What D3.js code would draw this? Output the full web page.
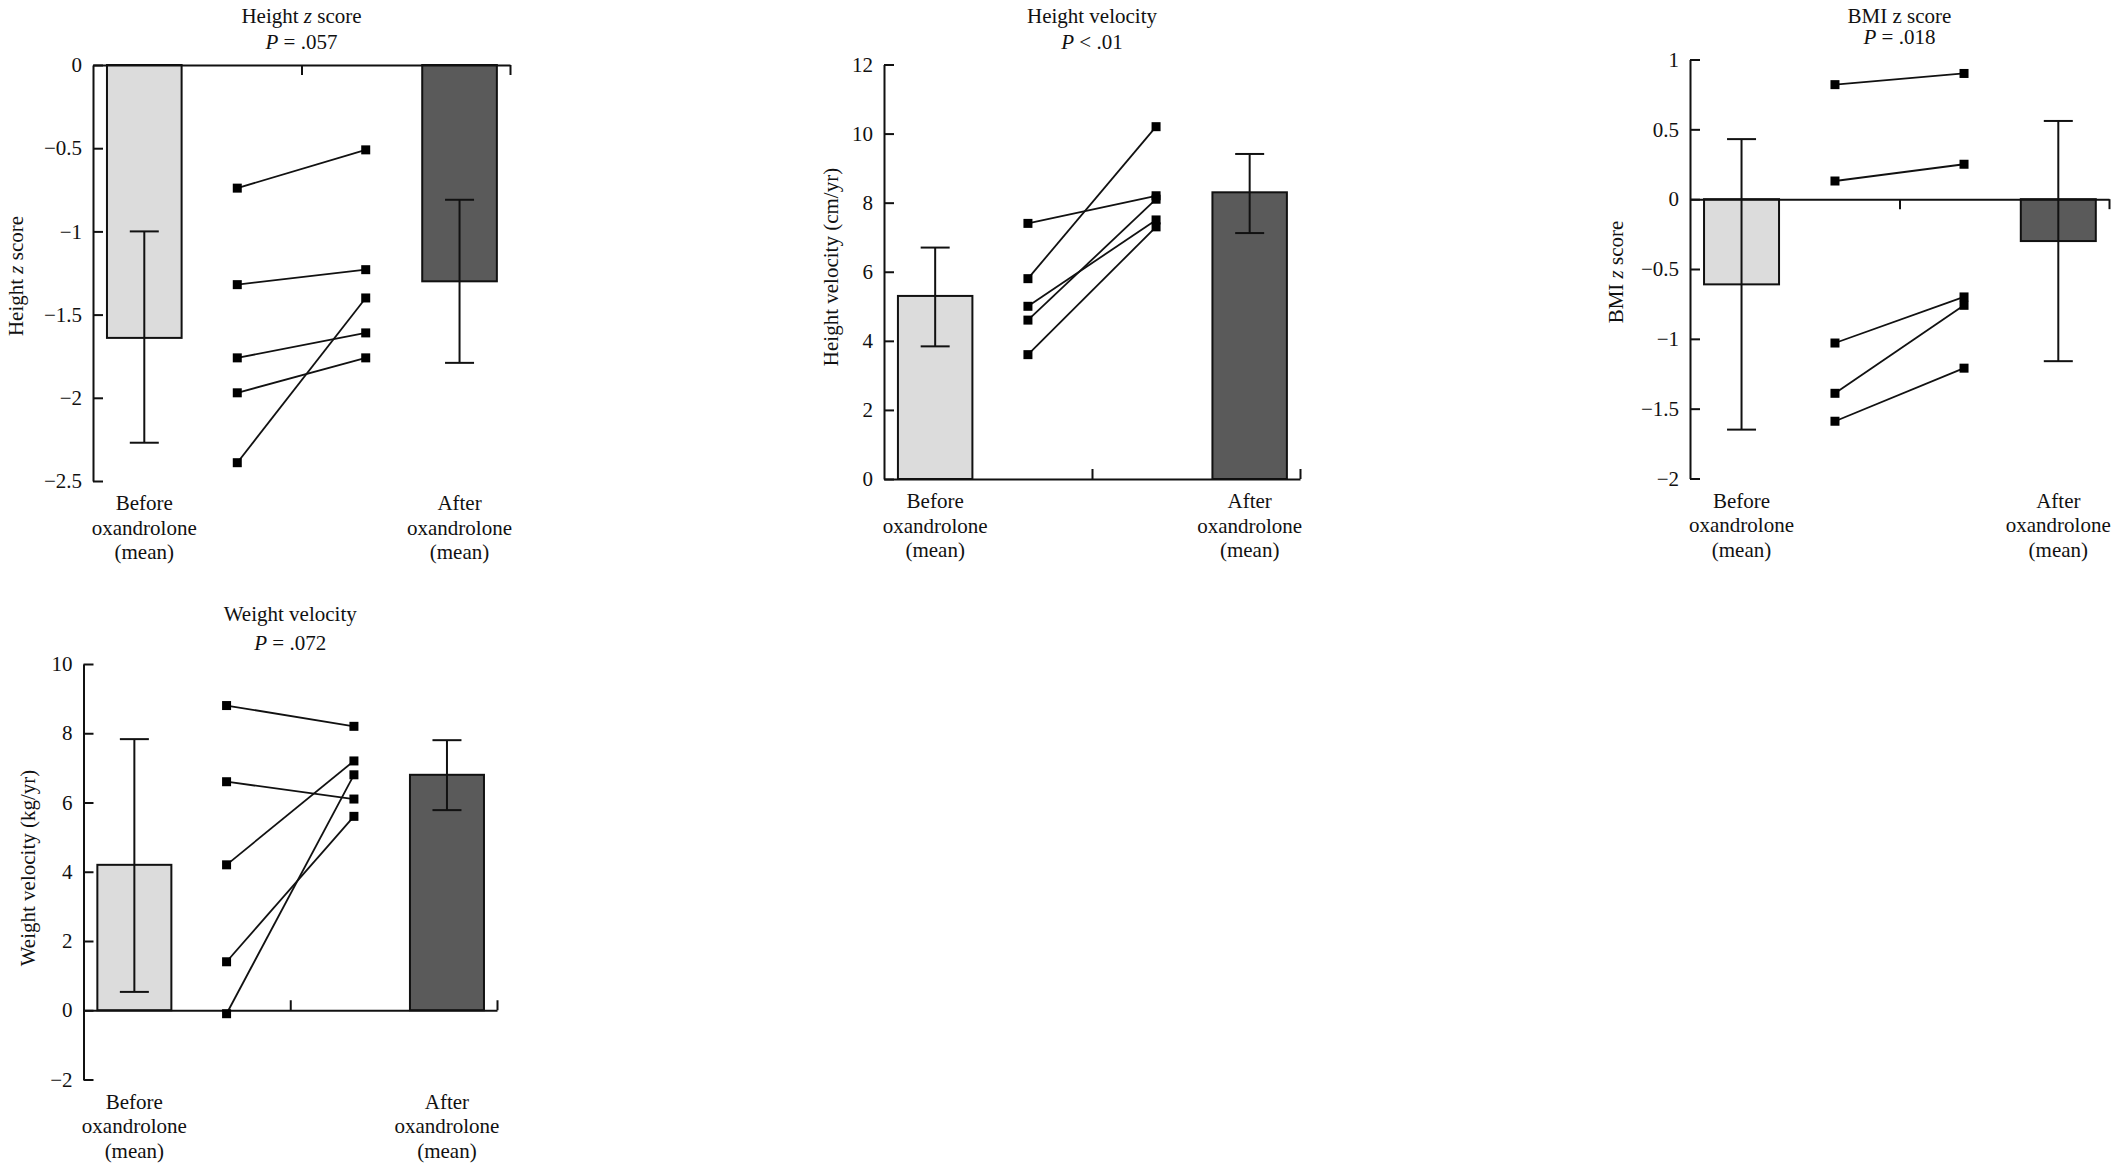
<!DOCTYPE html>
<html>
<head>
<meta charset="utf-8">
<script src="https://cdn.jsdelivr.net/npm/d3@7"></script>
<style>
  body { margin: 0; background: #fff; }
  text { font-family: "Liberation Serif", "DejaVu Serif", serif; font-size: 21px; fill: #111; white-space: pre; }
</style>
</head>
<body>
<svg id="chart" width="2120" height="1165"></svg>
<script>
// panel texts
const titles = ["Height z score", "Height velocity", "BMI z score", "Weight velocity"]
const pTexts = [" = .057", " < .01", " = .018", " = .072"]
const yLabels = ["Height z score", "Height velocity (cm/yr)", "BMI z score", "Weight velocity (kg/yr)"]
const categories = [["Before", "oxandrolone", "(mean)"], ["After", "oxandrolone", "(mean)"]]

// y axis domains and ticks
const yDomains = [[-2.5, 0], [0, 12], [-2, 1], [-2, 10]]
const yTicks = [
  [0, -0.5, -1, -1.5, -2, -2.5],
  [0, 2, 4, 6, 8, 10, 12],
  [1, 0.5, 0, -0.5, -1, -1.5, -2],
  [10, 8, 6, 4, 2, 0, -2]
]

// group means (before, after)
const heightZMeans = [-1.64, -1.30]
const heightVelMeans = [5.3, 8.3]
const bmiZMeans = [-0.61, -0.30]
const weightVelMeans = [4.2, 6.8]

// error bars [low, high] (before, after)
const heightZErr = [[-2.27, -1.0], [-1.79, -0.81]]
const heightVelErr = [[3.84, 6.7], [7.12, 9.41]]
const bmiZErr = [[-1.65, 0.43], [-1.16, 0.56]]
const weightVelErr = [[0.53, 7.83], [5.78, 7.8]]

// individual patients
const heightZBefore = [-0.74, -1.32, -1.76, -1.97, -2.39]
const heightZAfter = [-0.51, -1.23, -1.61, -1.76, -1.4]
const heightVelBefore = [7.4, 5.8, 5.0, 4.6, 3.6]
const heightVelAfter = [8.2, 10.2, 7.5, 8.1, 7.3]
const bmiZBefore = [0.82, 0.13, -1.03, -1.39, -1.59]
const bmiZAfter = [0.9, 0.25, -0.7, -0.76, -1.21]
const weightVelBefore = [8.8, 6.6, 4.2, 1.4, -0.1]
const weightVelAfter = [8.2, 6.1, 7.2, 5.6, 6.8]

const means = [heightZMeans, heightVelMeans, bmiZMeans, weightVelMeans]
const errs = [heightZErr, heightVelErr, bmiZErr, weightVelErr]
const befores = [heightZBefore, heightVelBefore, bmiZBefore, weightVelBefore]
const afters = [heightZAfter, heightVelAfter, bmiZAfter, weightVelAfter]

// layout of each panel (pixels)
const layouts = [
  { x0: 93, x1: 510, yTop: 65, yBot: 481, tickDir: 1, titleY: [23, 49], ylabX: 22.5, ylabY: 276, italicTitle: true },
  { x0: 884, x1: 1300, yTop: 64.5, yBot: 479, tickDir: -1, titleY: [23, 49], ylabX: 837.5, ylabY: 267, italicTitle: false },
  { x0: 1690, x1: 2109, yTop: 59.5, yBot: 478.5, tickDir: 1, titleY: [23, 44], ylabX: 1622.5, ylabY: 272, italicTitle: false },
  { x0: 83.5, x1: 497, yTop: 664, yBot: 1079.5, tickDir: -1, titleY: [621, 650], ylabX: 34.5, ylabY: 868, italicTitle: true }
]
// horizontal slots as fraction of the axis: before bar, first dots, second dots, after bar
const slots = [0.123, 0.346, 0.654, 0.879]
const barFrac = 0.179
const barColors = ["#dcdcdc", "#5a5a5a"]

const fmt = v => (v < 0 ? "\u2212" : "") + Math.abs(v)

const svg = d3.select("#chart")
svg.append("rect").attr("width", 2120).attr("height", 1165).attr("fill", "#fff")

// writes a string with the " z " in italics
const zText = (sel, str, italic) => {
  str.split(/( z )/).forEach(p => {
    if (p === " z ") {
      sel.append("tspan").text(" ")
      sel.append("tspan").style("font-style", italic ? "italic" : "normal").text("z")
      sel.append("tspan").text(" ")
    } else sel.append("tspan").text(p)
  })
}

layouts.forEach((L, i) => {
  let g = svg.append("g")
  let x = d3.scaleLinear().domain([0, 1]).range([L.x0, L.x1])
  let y = d3.scaleLinear().domain(yDomains[i]).range([L.yBot, L.yTop])
  let bw = (L.x1 - L.x0) * barFrac

  // title
  let cx = (L.x0 + L.x1) / 2
  let t1 = g.append("text").attr("x", cx).attr("y", L.titleY[0]).attr("text-anchor", "middle")
  zText(t1, titles[i], L.italicTitle)
  let t2 = g.append("text").attr("x", cx).attr("y", L.titleY[1]).attr("text-anchor", "middle")
  t2.append("tspan").style("font-style", "italic").text("P")
  t2.append("tspan").text(pTexts[i])

  // y label
  let yl = g.append("text")
    .attr("transform", "translate(" + L.ylabX + "," + L.ylabY + ") rotate(-90)")
    .attr("text-anchor", "middle")
  zText(yl, yLabels[i], true)

  // bars
  g.selectAll(".bar")
    .data(means[i])
    .enter()
    .append("rect")
    .attr("class", "bar")
    .attr("x", (d, j) => x(slots[j * 3]) - bw / 2)
    .attr("y", d => Math.min(y(0), y(d)))
    .attr("width", bw)
    .attr("height", d => Math.abs(y(d) - y(0)))
    .style("fill", (d, j) => barColors[j])
    .style("stroke", "#111")
    .style("stroke-width", "2px")

  // axes
  let yAxis = d3.axisLeft(y).tickValues(yTicks[i]).tickSizeInner(-10).tickSizeOuter(0).tickPadding(11).tickFormat(fmt)
  let ya = g.append("g").attr("transform", "translate(" + L.x0 + ",0)").call(yAxis)
  let xAxis = d3.axisBottom(x).tickValues([0.5, 1]).tickSizeInner(10 * L.tickDir).tickSizeOuter(0).tickFormat("")
  let xa = g.append("g").attr("transform", "translate(0," + y(0) + ")").call(xAxis)
  ;[ya, xa].forEach(a => {
    a.attr("font-family", null).attr("font-size", null)
    a.selectAll("path, line").style("stroke", "#111").style("stroke-width", "2px")
    a.selectAll("text").style("fill", "#111")
  })

  // error bars
  let eb = g.selectAll(".err").data(errs[i]).enter().append("g").attr("class", "err")
  let capW = 29
  eb.append("line")
    .attr("x1", (d, j) => x(slots[j * 3])).attr("x2", (d, j) => x(slots[j * 3]))
    .attr("y1", d => y(d[0])).attr("y2", d => y(d[1]))
  eb.append("line")
    .attr("x1", (d, j) => x(slots[j * 3]) - capW / 2).attr("x2", (d, j) => x(slots[j * 3]) + capW / 2)
    .attr("y1", d => y(d[0])).attr("y2", d => y(d[0]))
  eb.append("line")
    .attr("x1", (d, j) => x(slots[j * 3]) - capW / 2).attr("x2", (d, j) => x(slots[j * 3]) + capW / 2)
    .attr("y1", d => y(d[1])).attr("y2", d => y(d[1]))
  eb.selectAll("line").style("stroke", "#111").style("stroke-width", "2px")

  // paired patient lines
  let pairs = befores[i].map((b, j) => [[slots[1], b], [slots[2], afters[i][j]]])
  let toLine = d3.line().x(d => x(d[0])).y(d => y(d[1]))
  g.selectAll(".pair")
    .data(pairs)
    .enter()
    .append("path")
    .attr("class", "pair")
    .attr("d", toLine)
    .style("fill", "none")
    .style("stroke", "#111")
    .style("stroke-width", "1.8px")

  let pts = pairs.flat()
  let ms = 9
  g.selectAll(".pt")
    .data(pts)
    .enter()
    .append("rect")
    .attr("class", "pt")
    .attr("x", d => x(d[0]) - ms / 2)
    .attr("y", d => y(d[1]) - ms / 2)
    .attr("width", ms)
    .attr("height", ms)
    .style("fill", "#000")

  // category labels
  categories.forEach((lines, j) => {
    let ct = g.append("text").attr("text-anchor", "middle")
    lines.forEach((s, k) => {
      ct.append("tspan")
        .attr("x", x(slots[j * 3]))
        .attr("y", L.yBot + 29 + k * 24.5)
        .text(s)
    })
  })
})
</script>
</body>
</html>
